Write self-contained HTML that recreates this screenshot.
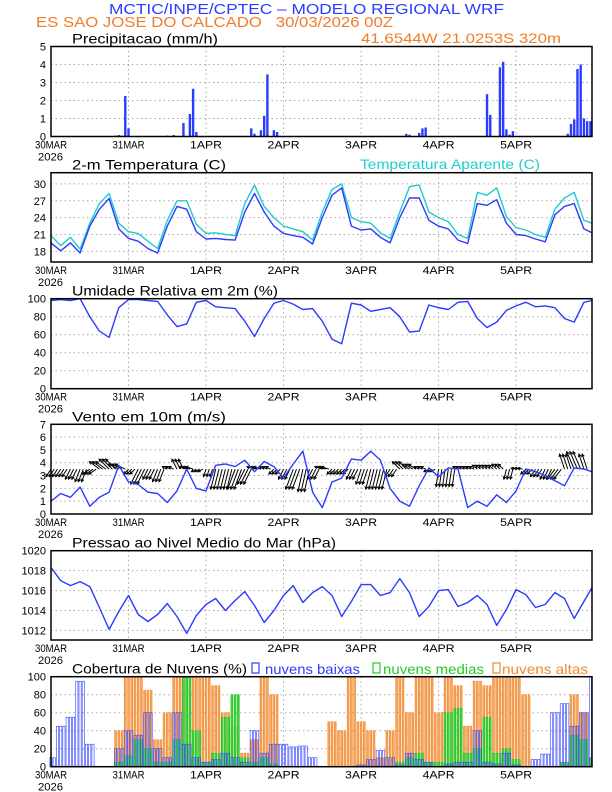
<!DOCTYPE html>
<html><head><meta charset="utf-8"><style>
html,body{margin:0;padding:0;background:#fff;}
svg{display:block;font-family:"Liberation Sans",sans-serif;}
</style></head><body>
<svg id="chart" width="612" height="792" viewBox="0 0 612 792" xmlns="http://www.w3.org/2000/svg">
<text x="109" y="14" font-size="15" fill="#2a3cff" textLength="395" lengthAdjust="spacingAndGlyphs">MCTIC/INPE/CPTEC – MODELO REGIONAL WRF</text>
<text x="36" y="27" font-size="15" fill="#f07d28" textLength="357" lengthAdjust="spacingAndGlyphs" xml:space="preserve">ES SAO JOSE DO CALCADO   30/03/2026 00Z</text>
<text x="361" y="43" font-size="14" fill="#f07d28" textLength="200" lengthAdjust="spacingAndGlyphs">41.6544W 21.0253S 320m</text>
<g id="g"></g>
</svg>
<script>
// ---- data (3-hourly, index i -> hour 3*i) ----
const dayLabels = ["30MAR","31MAR","1APR","2APR","3APR","4APR","5APR"];
const precipHours = [20,21,22,23,24,36,38,41,43,44,45,62,63,65,66,67,69,70,110,111,114,115,116,135,136,139,140,141,142,143,160,161,162,163,164,165,166,167];
const precipValues = [0.05,0.08,0.05,2.25,0.45,0.05,0.08,0.75,1.25,2.65,0.25,0.45,0.15,0.35,1.15,3.45,0.35,0.25,0.15,0.1,0.2,0.45,0.5,2.35,1.2,3.85,4.15,0.4,0.1,0.3,0.15,0.7,0.95,3.75,4.0,1.0,0.85,0.85];
const temp = [19.5,18.1,19.5,17.7,22.5,25.5,27.4,22,20.3,19.8,18.5,17.7,22.5,26,25.5,21.5,20.2,20.3,20.1,20,25,28.3,25,22.5,21.2,20.8,20.5,19.3,24,28,29.3,22.5,21.8,22,20.5,19.5,24,27.5,27.5,23.5,22.5,22,20,19.4,26.5,26.2,27.2,23,21,20.8,20.2,19.7,24.5,26,26.5,22,21.3];
const tempApp = [20.8,19,20.5,18.4,23,26.5,28.3,23,21.5,21.2,19.8,18.5,23.5,27,27,22.8,21.2,21.3,21,20.8,26.5,29.8,26,24,22.5,22,21.5,20,25,29,30,24,23.3,23,21.3,20.3,25,29.5,29.8,25,24,23.3,21,20.3,28.5,28,29.3,24.2,22.2,21.8,21,20.5,25.5,27.5,28.5,23.5,23];
const humidity = [98,99,98,100,80,64,57,90,99,99,98,97,82,69,72,96,98,91,90,89,75,58,78,95,98,94,88,89,75,55,50,95,93,86,88,90,80,63,64,93,90,88,96,97,78,68,74,87,92,96,91,92,90,78,74,96,98];
const windSpeed = [1.0,1.6,1.3,2.1,0.6,1.3,1.7,3.8,2.5,2.3,1.7,1.6,0.9,1.8,3.5,2.0,1.8,3.8,3.9,3.7,4.2,3.3,4.1,3.7,2.8,3.9,4.9,1.7,0.5,2.5,2.8,4.3,4.2,4.9,4.2,2.0,1.0,0.6,2.2,3.6,2.9,3.6,3.5,0.5,1.0,0.6,1.5,0.9,1.8,3.5,3.3,3.0,2.6,2.2,3.6,3.5,3.3];
const windV = [-1.5,-1.5,-2,-2.5,-1,1.5,2,1,-1,-3,-2,-2.5,0.5,2,0.5,-0.5,-1.5,-4,-4,-4,-3,0.5,0.5,-1,-2,-4,-4.5,-2,0.5,-1,-1,-2,-3,-4,-4,-1.5,1.5,1,0.5,-0.5,-3.5,-3.5,0.5,0.5,0.8,0.8,1,-2,0.2,-1,-1.5,-2,-2,3,3.5,3];
const windU = [-1,-1,-1,-1,-1.5,-2,-2,-2,-1,-1.5,-1,-1,-1,-1,-1.5,-1,-0.5,-1,-1,-1.5,-1.5,-1.5,-1,-1,-1,-1.5,-1,-1,-1.5,-1,-1,-1,-1,-1,-1,-1,-1.5,-1.5,-1,-1,-0.5,-0.5,-1,-1,-1,-1,-1,-0.5,-1,-1,-1,-1,-1.5,-1,-1.5,-1];
const pressure = [1018.3,1017,1016.5,1016.9,1016.4,1014.3,1012.1,1013.9,1015.5,1013.6,1012.9,1013.6,1014.7,1013.4,1011.7,1013.5,1014.6,1015.2,1014,1015,1015.9,1014.5,1012.8,1014,1015.5,1016.5,1014.8,1015.8,1016.4,1015.5,1013.4,1014.9,1016.6,1016.6,1015.5,1015.8,1017.2,1015.8,1013.4,1014.4,1016,1016.1,1014.4,1014.8,1015.5,1014.6,1012.5,1014.1,1016.1,1015.6,1014.3,1014.6,1015.8,1015.2,1013.2,1014.9,1016.3];
const cloudLow = [10,45,55,95,25,0,0,20,40,35,60,20,10,60,25,10,5,8,15,10,5,40,15,25,25,22,23,10,0,0,0,0,2,8,18,10,2,15,8,5,0,3,5,5,40,5,3,15,2,0,8,14,60,70,45,60,100];
const cloudMid = [0,0,0,0,0,0,0,5,12,30,20,5,5,30,100,40,5,15,55,80,10,5,10,3,0,0,0,0,0,0,0,0,0,0,0,0,5,10,15,5,5,60,65,15,20,55,15,20,8,0,0,0,0,5,35,30,10];
const cloudHigh = [0,0,0,0,0,0,0,40,100,100,85,30,60,100,100,100,100,90,60,45,15,30,100,80,0,0,0,0,0,50,40,100,50,40,10,40,100,60,100,100,60,100,90,45,95,90,100,100,100,80,0,0,0,0,80,60,0];

const NS="http://www.w3.org/2000/svg";
const G=document.getElementById('g');
const X0=51, X1=592, HMAX=167.5;
function xh(h){return X0+h*(X1-X0)/HMAX;}
function mk(tag,attrs,parent){const e=document.createElementNS(NS,tag);for(const k in attrs)e.setAttribute(k,attrs[k]);(parent||G).appendChild(e);return e;}
function txt(s,attrs,parent){const e=mk('text',attrs,parent);e.textContent=s;return e;}

function panel(name,top,bot,vmin,vmax,ticks,title,titleLen,fmt){
  const g=mk('g',{});
  
  
  const y=v=>bot-(v-vmin)/(vmax-vmin)*(bot-top);
  for(let d=1;d<7;d++){const l=mk('line',{x1:xh(24*d),x2:xh(24*d),y1:top,y2:bot,stroke:'#aaa','stroke-width':1,'stroke-dasharray':'1.5,3'},g);
    }
  ticks.forEach(t=>{
    if(t>vmin&&t<vmax){const l=mk('line',{x1:X0,x2:X1,y1:y(t),y2:y(t),stroke:'#aaa','stroke-width':1,'stroke-dasharray':'1.5,3'},g);
      }
    const tl=txt(fmt?fmt(t):String(t),{x:46,y:y(t)+4,'font-size':11,'text-anchor':'end',fill:'#000'},g);
    
  });
  dayLabels.forEach((s,d)=>{
    const t=txt(s,{x:xh(24*d),y:bot+12,'font-size':11,'text-anchor':'middle',fill:'#000',textLength:32,lengthAdjust:'spacingAndGlyphs'},g);
    
  });
  const yr=txt('2026',{x:38,y:bot+24,'font-size':11,fill:'#000',textLength:25,lengthAdjust:'spacingAndGlyphs'},g);
  
  const tt=txt(title,{x:72,y:top-3,'font-size':14,fill:'#000',textLength:titleLen,lengthAdjust:'spacingAndGlyphs'},g);
  
  const content=mk('g',{},g);
  
  
  return {g,content,y,top,bot};
}
function frame(p){const r=mk('rect',{x:X0,y:p.top,width:X1-X0,height:p.bot-p.top,fill:'none',stroke:'#000','stroke-width':1.5},p.g);
  }
function line(p,arr,color,name){
  const pts=arr.map((v,i)=>Math.min(xh(3*i),X1).toFixed(1)+','+p.y(v).toFixed(1)).join(' ');
  const l=mk('polyline',{points:pts,fill:'none',stroke:color,'stroke-width':1.4,'stroke-linejoin':'round'},p.content);
  
}

const pp=panel('precip',46.5,136.5,0,5,[0,1,2,3,4,5],'Precipitacao (mm/h)',146);
precipHours.forEach((h,i)=>{
  const v=precipValues[i];const x=xh(h)-1.2;
  const b=mk('rect',{x:Math.min(x,X1-2.4),y:pp.y(v),width:2.4,height:pp.bot-pp.y(v),fill:'#2a3cff'},pp.content);
  
});
frame(pp);

const tp=panel('temperature',172.7,262,16.1,32,[18,21,24,27,30],'2-m Temperatura (C)',154);
const ta=txt('Temperatura Aparente (C)',{x:360,y:169,'font-size':14,fill:'#1ecfcf',textLength:180,lengthAdjust:'spacingAndGlyphs'},tp.g);

line(tp,tempApp,'#20cccc','apparent-temp-line');
line(tp,temp,'#2a3cff','temp-line');
frame(tp);

const hp=panel('humidity',298.7,388.7,0,100,[0,20,40,60,80,100],'Umidade Relativa em 2m (%)',206);
line(hp,humidity,'#2a3cff','humidity-line');
frame(hp);

const wp=panel('wind',424.3,514,0,7,[0,1,2,3,4,5,6,7],'Vento em 10m (m/s)',154);
const base=wp.y(3.5);
for(let i=0;i<windV.length;i++){
  for(let k=0;k<3;k++){
    const x0=xh(3*i+k);if(x0>X1-2)continue;
    const u=windU[i],v=windV[i];
    const x1=x0+u*5,y1=base-v*5;
    const ar=mk('g',{},wp.content);
    
    
    mk('line',{x1:x0,y1:base,x2:x1,y2:y1,stroke:'#000','stroke-width':1},ar);
    const ang=Math.atan2(y1-base,x1-x0);
    const hx1=x1-3*Math.cos(ang-0.5),hy1=y1-3*Math.sin(ang-0.5);
    const hx2=x1-3*Math.cos(ang+0.5),hy2=y1-3*Math.sin(ang+0.5);
    mk('polyline',{points:`${hx1},${hy1} ${x1},${y1} ${hx2},${hy2}`,fill:'none',stroke:'#000','stroke-width':1},ar);
  }
}
line(wp,windSpeed,'#2a3cff','wind-speed-line');
frame(wp);

const prp=panel('pressure',550.7,640,1011.04,1020,[1012,1014,1016,1018,1020],'Pressao ao Nivel Medio do Mar (hPa)',264);
line(prp,pressure,'#2a3cff','pressure-line');
frame(prp);

const cp=panel('clouds',676.7,766.7,0,100,[0,20,40,60,80,100],'Cobertura de Nuvens (%)',175);
function cloudBars(arr,fill,stroke,name,w){
  arr.forEach((v,i)=>{
    for(let k=-1;k<=1;k++){
      const h=3*i+k;if(h<0||v<=0)continue;
      const x=xh(h)-w/2;if(x>X1-2)continue;
      const b=mk('rect',{x:x,y:cp.y(v),width:w,height:cp.bot-cp.y(v),fill:fill,stroke:stroke,'stroke-width':0.6},cp.content);
      
    }
  });
}
cloudBars(cloudHigh,'#f6a55e','#f08a30','high-cloud-bar',1.9);
cloudBars(cloudMid,'#3cd83c','#22bb22','mid-cloud-bar',1.9);
cloudBars(cloudLow,'none','#2a3cff','low-cloud-bar',2.2);
frame(cp);
const legend=[['nuvens baixas','#2a3cff',252,265,95],['nuvens medias','#22cc22',373,383,101],['nuvens altas','#f08a30',493,502,86]];
legend.forEach(l=>{
  const r=mk('rect',{x:l[2],y:663,width:7,height:10,fill:'none',stroke:l[1],'stroke-width':1.2},cp.g);
  
  const t=txt(l[0],{x:l[3],y:674,'font-size':14,fill:l[1],textLength:l[4],lengthAdjust:'spacingAndGlyphs'},cp.g);
  
});
</script>
</body></html>
